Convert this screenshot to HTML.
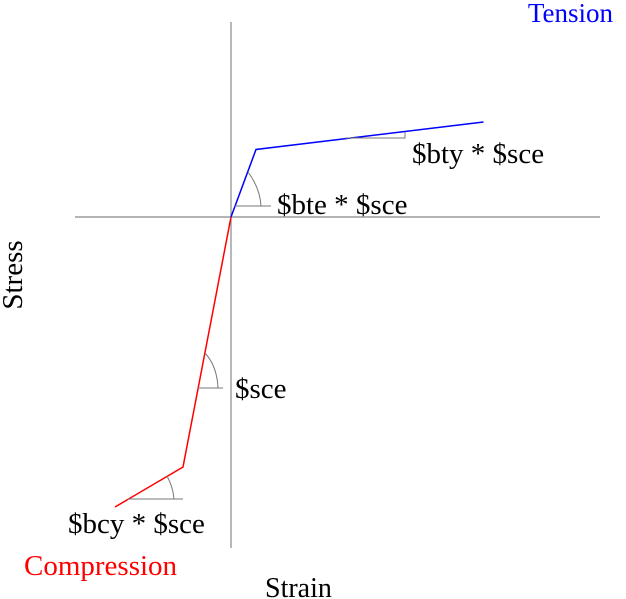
<!DOCTYPE html>
<html><head><meta charset="utf-8"><style>
html,body{margin:0;padding:0;background:#fff;}
svg{display:block;}
text{font-family:"Liberation Serif",serif;font-size:29px;}
</style></head><body>
<svg id="chart" width="626" height="599" viewBox="0 0 626 599">
<line x1="75" y1="217" x2="600" y2="217" stroke="#888" stroke-width="1.2"/>
<line x1="231" y1="22" x2="231" y2="548" stroke="#888" stroke-width="1.2"/>
<g id="marks"></g>
<g fill="none" stroke="#777" stroke-width="1">
<path d="M345 138 H405 V132"/>
<path d="M234 206 H271 M248 172 Q260 188 261 206"/>
<path d="M198 388 H223 M205 353 Q217 366 218 388"/>
<path d="M128 499 H183 M167 476 Q173 487 174 499"/>
</g>
<text x="613" y="22" text-anchor="end" fill="#0000ff" style="font-size:27px">Tension</text>
<text x="412" y="163">$bty * $sce</text>
<text x="277" y="214">$bte * $sce</text>
<text x="235" y="398">$sce</text>
<text x="68" y="533">$bcy * $sce</text>
<text x="24" y="575" fill="#ff0000">Compression</text>
<text x="265" y="597" style="font-size:28px">Strain</text>
<text transform="translate(22,275) rotate(-90)" text-anchor="middle">Stress</text>
</svg>
<script>
const tensionStrain=[0,1,10.1];
const tensionStress=[0,2.7,3.8];
const compressionStrain=[0,-1.92,-4.64];
const compressionStress=[0,-10,-11.6];
function xs(v){return 231+25*v;}
function ys(v){return 217-25*v;}
const g=document.getElementById('marks');
function line(sx,sy,color,name){
  const p=document.createElementNS('http://www.w3.org/2000/svg','polyline');
  p.setAttribute('points',sx.map((s,i)=>xs(s)+','+ys(sy[i])).join(' '));
  p.setAttribute('fill','none');
  p.setAttribute('stroke',color);
  p.setAttribute('stroke-width','1.5');
  
  
  g.appendChild(p);
}
line(tensionStrain,tensionStress,'#0000ff','tension-line');
line(compressionStrain,compressionStress,'#ff0000','compression-line');
</script>
</body></html>
